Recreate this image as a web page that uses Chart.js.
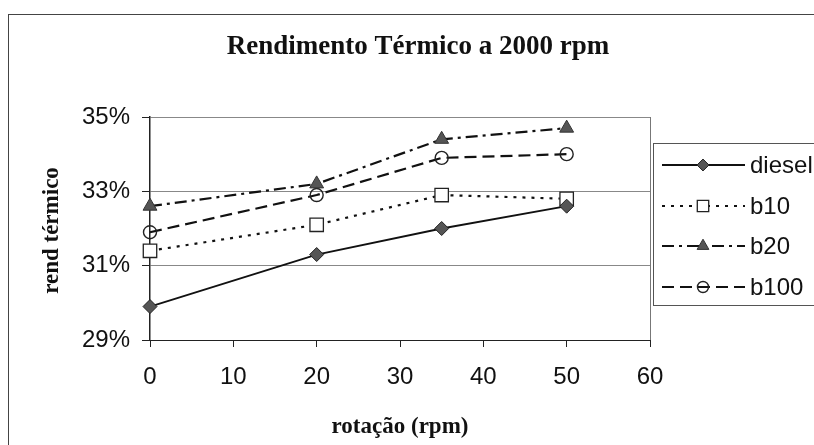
<!DOCTYPE html>
<html>
<head>
<meta charset="utf-8">
<script src="https://cdn.jsdelivr.net/npm/chart.js@4/dist/chart.umd.min.js"></script>
<style>
html,body{margin:0;padding:0;background:#fff;}
#wrap{width:814px;height:445px;position:relative;}
</style>
</head>
<body>
<div id="wrap"><canvas id="c" width="814" height="445"></canvas></div>
<script>
// ---- data ----
const chartTitle = 'Rendimento Térmico a 2000 rpm';
const xTitle = 'rotação (rpm)';
const yTitle = 'rend térmico';
const categories = [0, 20, 35, 50];          // rotação (rpm)
const seriesNames = ['diesel', 'b10', 'b20', 'b100'];
const dieselVals = [29.9, 31.3, 32.0, 32.6];  // %
const b10Vals    = [31.4, 32.1, 32.9, 32.8];
const b20Vals    = [32.6, 33.2, 34.4, 34.7];
const b100Vals   = [31.9, 32.9, 33.9, 34.0];
const xTickMin = 0, xTickMax = 60, xTickStep = 10;
const yTickMin = 29, yTickMax = 35, yTickStep = 2;

const toPts = vals => categories.map((x, i) => ({x: x, y: vals[i]}));

const SANS = '"Liberation Sans", Arial, sans-serif';
const SERIF = '"Liberation Serif", "Times New Roman", serif';

const datasets = [
  {label: seriesNames[0], data: toPts(dieselVals), borderColor: '#111', borderWidth: 1.8, borderDash: [],
   pointStyle: 'rectRot', pointRadius: 7, pointBackgroundColor: '#555', pointBorderColor: '#222', pointBorderWidth: 1},
  {label: seriesNames[1], data: toPts(b10Vals), borderColor: '#111', borderWidth: 2.2, borderDash: [3, 6],
   pointStyle: 'rect', pointRadius: 9.5, pointBackgroundColor: '#fff', pointBorderColor: '#222', pointBorderWidth: 1.3},
  {label: seriesNames[2], data: toPts(b20Vals), borderColor: '#111', borderWidth: 2.2, borderDash: [12, 5, 3, 5],
   pointStyle: 'triangle', pointRadius: 8, pointBackgroundColor: '#555', pointBorderColor: '#333', pointBorderWidth: 1},
  {label: seriesNames[3], data: toPts(b100Vals), borderColor: '#111', borderWidth: 2.2, borderDash: [12, 6],
   pointStyle: 'circle', pointRadius: 6.5, pointBackgroundColor: 'rgba(255,255,255,0)', pointBorderColor: '#222', pointBorderWidth: 1.4}
];
datasets.forEach(d => { d.fill = false; d.tension = 0; d.clip = false; d.pointHoverRadius = d.pointRadius; });

const decor = {
  id: 'decor',
  beforeDraw(chart) {
    const ctx = chart.ctx;
    ctx.save();
    ctx.fillStyle = '#fff';
    ctx.fillRect(0, 0, chart.width, chart.height);
    // outer frame (extends beyond the visible region on right/bottom)
    ctx.strokeStyle = '#444';
    ctx.lineWidth = 1;
    ctx.strokeRect(8.5, 14.5, 830, 440);
    ctx.restore();
  },
  afterDraw(chart) {
    const ctx = chart.ctx;
    const a = chart.chartArea;
    ctx.save();
    // plot-area right border
    ctx.strokeStyle = '#777';
    ctx.lineWidth = 1;
    ctx.beginPath();
    ctx.moveTo(Math.round(a.right) + 0.5, a.top);
    ctx.lineTo(Math.round(a.right) + 0.5, a.bottom);
    ctx.stroke();
    // title
    ctx.fillStyle = '#111';
    ctx.textAlign = 'center';
    ctx.textBaseline = 'middle';
    ctx.font = 'bold 27px ' + SERIF;
    ctx.fillText(chartTitle, 418, 47);
    // x title
    ctx.font = 'bold 23px ' + SERIF;
    ctx.fillText(xTitle, (a.left + a.right) / 2, 427);
    // y title
    ctx.save();
    ctx.translate(52, (a.top + a.bottom) / 2 + 2);
    ctx.rotate(-Math.PI / 2);
    ctx.fillText(yTitle, 0, 0);
    ctx.restore();
    // legend
    const lx = 653.5, ly = 143.5;
    ctx.strokeStyle = '#555';
    ctx.lineWidth = 1;
    ctx.strokeRect(lx, ly, 200, 162);
    const rows = [165, 206, 246, 287];
    chart.data.datasets.forEach((ds, i) => {
      const y = rows[i];
      ctx.save();
      ctx.strokeStyle = ds.borderColor;
      ctx.lineWidth = ds.borderWidth;
      ctx.setLineDash(ds.borderDash);
      ctx.beginPath();
      ctx.moveTo(662, y);
      ctx.lineTo(745, y);
      ctx.stroke();
      ctx.setLineDash([]);
      ctx.fillStyle = ds.pointBackgroundColor;
      ctx.strokeStyle = ds.pointBorderColor;
      ctx.lineWidth = ds.pointBorderWidth;
      Chart.helpers.drawPoint(ctx, {pointStyle: ds.pointStyle, radius: ds.pointRadius * 0.85, rotation: 0, borderWidth: ds.pointBorderWidth}, 703, y);
      ctx.restore();
      ctx.fillStyle = '#111';
      ctx.font = '24px ' + SANS;
      ctx.textAlign = 'left';
      ctx.textBaseline = 'middle';
      ctx.fillText(ds.label, 750, y + 1);
    });
    ctx.restore();
  }
};

new Chart(document.getElementById('c'), {
  type: 'line',
  data: {datasets: datasets},
  plugins: [decor],
  options: {
    responsive: false,
    animation: false,
    events: [],
    layout: {padding: {left: 0, top: 117, right: 164, bottom: 0}},
    plugins: {legend: {display: false}, title: {display: false}, tooltip: {enabled: false}},
    scales: {
      x: {
        type: 'linear',
        min: xTickMin, max: xTickMax,
        afterFit: s => { s.height = 105; },
        ticks: {stepSize: xTickStep, color: '#111', font: {family: SANS, size: 24}, padding: 16, maxRotation: 0},
        grid: {drawOnChartArea: false, tickLength: 7, tickColor: '#222', tickWidth: 1},
        border: {color: '#222', width: 1}
      },
      y: {
        type: 'linear',
        min: yTickMin, max: yTickMax,
        afterFit: s => { s.width = 150; },
        ticks: {stepSize: yTickStep, color: '#111', font: {family: SANS, size: 24}, padding: 12,
                callback: v => v + '%'},
        grid: {color: '#888', lineWidth: 1, tickLength: 8, tickColor: '#222'},
        border: {color: '#222', width: 1.5}
      }
    }
  }
});
</script>
</body>
</html>
